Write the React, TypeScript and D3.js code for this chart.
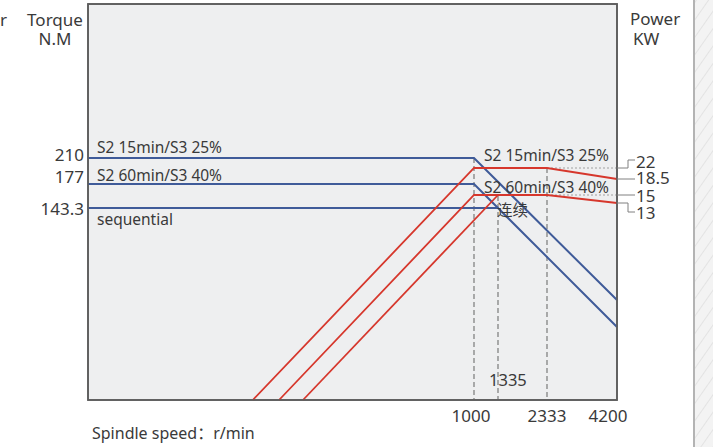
import React from "react";
import * as d3 from "d3";

// ---- data ----
const speedBreaks = [0, 1000, 1335, 2333, 4200];
const speedTicks = [1000, 2333, 4200];
const speedMarks = [1000, 1335, 2333];
const torqueBreaks = [0, 143.3, 177, 210];
const torqueTicks = [210, 177, 143.3];
const powerBreaks = [0, 13, 15, 18.5, 22];
const powerTicks = [22, 18.5, 15, 13];

const torqueS2_15 = [
  { rpm: 0, v: 210 },
  { rpm: 1000, v: 210 },
  { rpm: 4200, v: 74.6 },
];
const torqueS2_60 = [
  { rpm: 0, v: 177 },
  { rpm: 1000, v: 177 },
  { rpm: 4200, v: 54.5 },
];
const torqueCont = [
  { rpm: 0, v: 143.3 },
  { rpm: 1335, v: 143.3 },
];
const powerS2_15 = [
  { rpm: 427, v: 0 },
  { rpm: 1000, v: 22 },
  { rpm: 2333, v: 22 },
  { rpm: 4200, v: 18.5 },
];
const powerS2_60 = [
  { rpm: 495, v: 0 },
  { rpm: 1000, v: 15 },
  { rpm: 2333, v: 15 },
  { rpm: 4200, v: 13 },
];
const powerCont = [
  { rpm: 557, v: 0 },
  { rpm: 1335, v: 15 },
];

const FONT = "'Noto Sans', 'Noto Sans CJK SC', sans-serif";
const BLUE = "#3f5b99";
const RED = "#d6372c";
const TXT = "#3a3a3a";

export default function App() {
  const left = 88, right = 617, top = 4, bottom = 400;
  const x = d3.scaleLinear().domain(speedBreaks).range([left, 474, 498, 547, right]);
  const yT = d3.scaleLinear().domain(torqueBreaks).range([bottom, 208, 184, 158]);
  const yP = d3.scaleLinear().domain(powerBreaks).range([bottom, 203, 195, 179, 168]);

  const lineT = d3.line<{ rpm: number; v: number }>().x((d) => x(d.rpm)).y((d) => yT(d.v));
  const lineP = d3.line<{ rpm: number; v: number }>().x((d) => x(d.rpm)).y((d) => yP(d.v));

  const torqueLabelOffset = [-4, -8, 0];
  const markTop = [yT(210), yP(15) + 1, yP(22)];

  const bx = right + 11; // bracket x
  const bEnd = right + 18;

  return (
    <svg
      width={713}
      height={447}
      style={{ position: "absolute", left: 0, top: 0, fontFamily: FONT }}
    >
      <defs>
        <pattern id="hatch" width="10" height="10" patternUnits="userSpaceOnUse" patternTransform="rotate(35)">
          <rect width="10" height="10" fill="#f3f3f3" />
          <line x1="0" y1="0" x2="0" y2="10" stroke="#d4d4d4" strokeWidth="1" />
        </pattern>
      </defs>
      <rect x={0} y={0} width={713} height={447} fill="#fff" />
      {/* right hatched band */}
      <rect x={694} y={0} width={19} height={447} fill="url(#hatch)" />
      <line x1={694} y1={0} x2={694} y2={447} stroke="#b3b3b3" strokeWidth={2} />

      {/* plot box */}
      <rect x={left} y={top} width={right - left} height={bottom - top} fill="#eeeff0" stroke="#5c5c5c" strokeWidth={1.6} />

      {/* vertical dashed markers */}
      {speedMarks.map((s, i) => (
        <line key={s} x1={x(s)} x2={x(s)} y1={markTop[i]} y2={bottom} stroke="#7a7a7a" strokeWidth={1.2} strokeDasharray="5,3" />
      ))}
      {/* horizontal dashed extensions */}
      {[22, 15].map((p) => (
        <line key={p} x1={x(2333)} x2={right} y1={yP(p)} y2={yP(p)} stroke="#a0a0a0" strokeWidth={1} strokeDasharray="2,2" />
      ))}

      {/* torque lines */}
      {[torqueS2_15, torqueS2_60, torqueCont].map((s, i) => (
        <path key={"t" + i} d={lineT(s) || ""} fill="none" stroke={BLUE} strokeWidth={2} />
      ))}
      {/* power lines */}
      {[powerS2_15, powerS2_60, powerCont].map((s, i) => (
        <path key={"p" + i} d={lineP(s) || ""} fill="none" stroke={RED} strokeWidth={1.8} />
      ))}

      {/* redraw box border on top */}
      <rect x={left} y={top} width={right - left} height={bottom - top} fill="none" stroke="#5c5c5c" strokeWidth={1.6} />

      {/* left torque ticks */}
      {torqueTicks.map((t, i) => (
        <text key={t} x={84} y={yT(t) + torqueLabelOffset[i]} textAnchor="end" dominantBaseline="central" fontSize={17} fill={TXT}>
          {String(t)}
        </text>
      ))}

      {/* right power ticks with leaders */}
      <g stroke="#808080" strokeWidth={1} fill="none">
        <polyline points={`${right},${yP(22)} ${bx},${yP(22)} ${bx},${yP(22) - 8} ${bEnd},${yP(22) - 8}`} />
        <polyline points={`${right},${yP(18.5)} ${bEnd},${yP(18.5)}`} />
        <polyline points={`${right},${yP(15)} ${bEnd},${yP(15)}`} />
        <polyline points={`${right},${yP(13)} ${bx},${yP(13)} ${bx},${yP(13) + 9} ${bEnd},${yP(13) + 9}`} />
      </g>
      {powerTicks.map((p, i) => {
        const off = [-7, -2, 0, 9][i];
        return (
          <text key={p} x={636} y={yP(p) + off} dominantBaseline="central" fontSize={17} fill={TXT}>
            {String(p)}
          </text>
        );
      })}

      {/* x ticks */}
      {speedTicks.map((s, i) => (
        <text key={s} x={x(s) + [-3, 0, -9][i]} y={415} textAnchor="middle" dominantBaseline="central" fontSize={17} fill={TXT}>
          {String(s)}
        </text>
      ))}
      <text x={489} y={379} dominantBaseline="central" fontSize={16.5} fill={TXT}>1335</text>

      {/* series labels */}
      <g fontSize={15.5} fill={TXT}>
        <text x={97} y={147} dominantBaseline="central">S2 15min/S3 25%</text>
        <text x={97} y={175} dominantBaseline="central">S2 60min/S3 40%</text>
        <text x={97} y={219} dominantBaseline="central">sequential</text>
        <text x={484} y={155} dominantBaseline="central">S2 15min/S3 25%</text>
        <text x={484} y={187} dominantBaseline="central">S2 60min/S3 40%</text>
        <text x={497} y={210} dominantBaseline="central">连续</text>
      </g>

      {/* axis titles */}
      <g fontSize={17} fill={TXT}>
        <text x={0} y={19} dominantBaseline="central">r</text>
        <text x={55} y={19} textAnchor="middle" dominantBaseline="central">Torque</text>
        <text x={55} y={38} textAnchor="middle" dominantBaseline="central">N.M</text>
        <text x={630} y={18} dominantBaseline="central">Power</text>
        <text x={633} y={38} dominantBaseline="central">KW</text>
        <text x={92} y={433} dominantBaseline="central" fontSize={16}>Spindle speed：r/min</text>
      </g>
    </svg>
  );
}
